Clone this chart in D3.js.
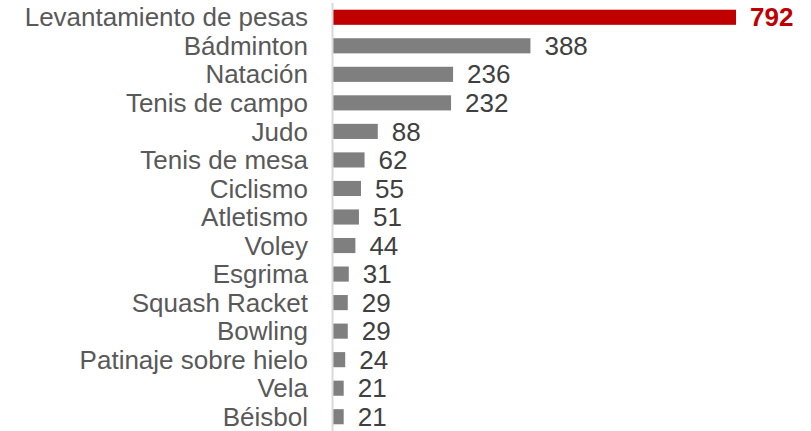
<!DOCTYPE html>
<html>
<head>
<meta charset="utf-8">
<script src="https://cdn.jsdelivr.net/npm/d3@7"></script>
<style>
  html, body { margin: 0; padding: 0; background: #fff; }
  svg { display: block; font-family: "Liberation Sans", Arial, sans-serif; }
</style>
</head>
<body>
<svg id="chart" width="811" height="431"></svg>
<script>
const sports = [
  'Levantamiento de pesas', 'Bádminton', 'Natación', 'Tenis de campo', 'Judo',
  'Tenis de mesa', 'Ciclismo', 'Atletismo', 'Voley', 'Esgrima',
  'Squash Racket', 'Bowling', 'Patinaje sobre hielo', 'Vela', 'Béisbol',
];
const medals = [792, 388, 236, 232, 88, 62, 55, 51, 44, 31, 29, 29, 24, 21, 21];
const highlight = ['Levantamiento de pesas'];

const RED = '#C00000';
const GREY = '#7F7F7F';

const svg = d3.select('#chart');
const x0 = 333;

const x = d3.scaleLinear().domain([0, 792]).range([x0, 736]);
const y = d3
  .scaleBand()
  .domain(sports)
  .range([3, 431])
  .paddingInner(0.47)
  .paddingOuter(0.235);

const rows = sports.map((name, i) => ({ name, value: medals[i] }));
const isHi = (d) => highlight.includes(d.name);

svg
  .selectAll('rect.bar')
  .data(rows)
  .join('rect')
  .attr('class', 'bar')
  .attr('x', x0)
  .attr('y', (d) => y(d.name))
  .attr('width', (d) => x(d.value) - x0)
  .attr('height', y.bandwidth())
  .attr('fill', (d) => (isHi(d) ? RED : GREY));

// vertical axis line
svg
  .append('line')
  .attr('x1', x0 - 0.5)
  .attr('x2', x0 - 0.5)
  .attr('y1', 3)
  .attr('y2', 431)
  .attr('stroke', '#D9D9D9')
  .attr('stroke-width', 2);

svg
  .selectAll('text.cat')
  .data(rows)
  .join('text')
  .attr('class', 'cat')
  .attr('x', 308)
  .attr('y', (d) => y(d.name) + y.bandwidth() / 2)
  .attr('dy', '0.35em')
  .attr('text-anchor', 'end')
  .attr('font-size', 26)
  .attr('fill', '#595959')
  .text((d) => d.name);

svg
  .selectAll('text.val')
  .data(rows)
  .join('text')
  .attr('class', 'val')
  .attr('x', (d) => x(d.value) + 14)
  .attr('y', (d) => y(d.name) + y.bandwidth() / 2)
  .attr('dy', '0.35em')
  .attr('font-size', 26)
  .attr('font-weight', (d) => (isHi(d) ? 'bold' : null))
  .attr('fill', (d) => (isHi(d) ? RED : '#404040'))
  .text((d) => d.value);
</script>
</body>
</html>
